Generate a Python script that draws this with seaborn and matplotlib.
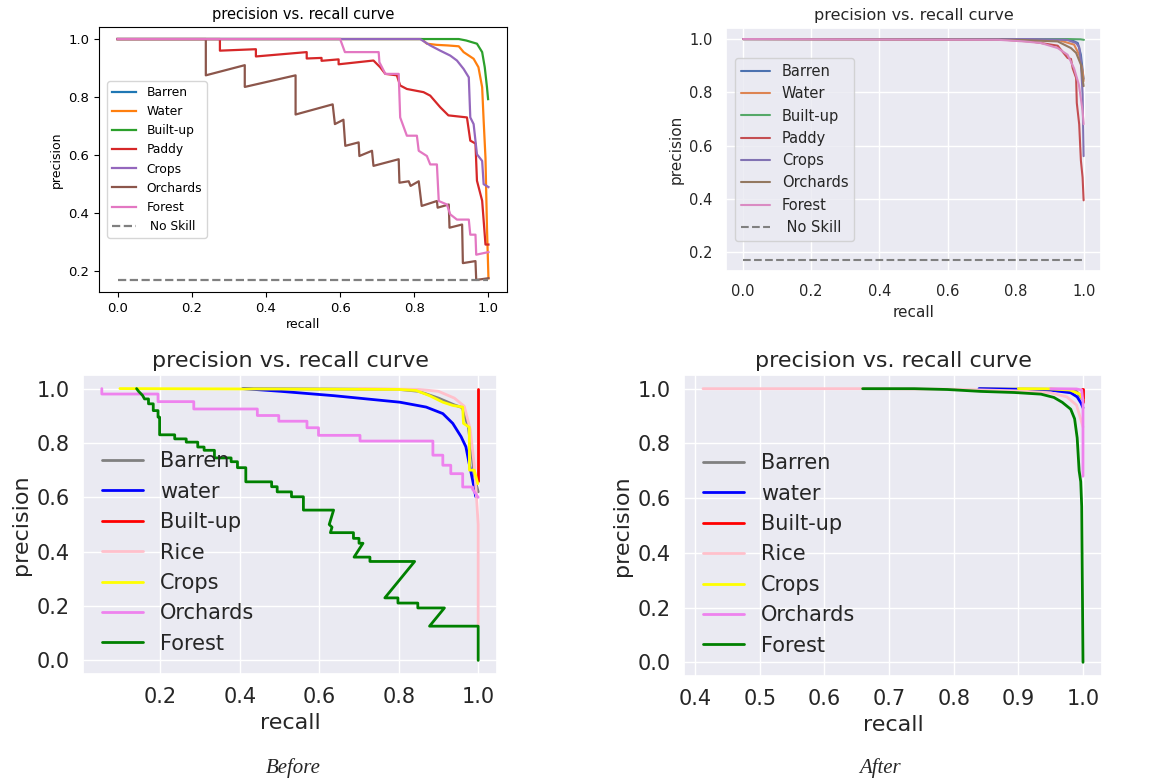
import matplotlib
matplotlib.use("Agg")
import matplotlib.pyplot as plt
from matplotlib.ticker import MultipleLocator
import seaborn as sns

# ---------------- data ----------------
# Top-left (before, first model)
tl_names = ["Barren", "Water", "Built-up", "Paddy", "Crops", "Orchards", "Forest"]
tl_barren_r = [0.0, 0.60]
tl_barren_p = [1.0, 1.0]
tl_water_r = [0.0, 0.82, 0.834, 0.86, 0.89, 0.92, 0.933, 0.96, 0.973, 0.983, 0.987, 0.992, 0.996, 1.0]
tl_water_p = [1.0, 1.0, 0.984, 0.98, 0.978, 0.975, 0.955, 0.932, 0.903, 0.834, 0.72, 0.59, 0.35, 0.176]
tl_built_r = [0.0, 0.92, 0.94, 0.969, 0.983, 0.99, 0.996, 0.999]
tl_built_p = [1.0, 1.0, 0.995, 0.984, 0.955, 0.903, 0.834, 0.793]
tl_paddy_r = [0.0, 0.276, 0.276, 0.373, 0.373, 0.51, 0.51, 0.55, 0.55, 0.596, 0.596, 0.69, 0.708,
              0.722, 0.753, 0.762, 0.78, 0.825, 0.843, 0.87, 0.892, 0.942, 0.951, 0.965, 0.969,
              0.983, 0.992, 1.0]
tl_paddy_p = [1.0, 1.0, 0.96, 0.965, 0.94, 0.955, 0.933, 0.935, 0.925, 0.93, 0.913, 0.926, 0.903,
              0.88, 0.875, 0.84, 0.828, 0.817, 0.805, 0.765, 0.737, 0.73, 0.65, 0.64, 0.512,
              0.443, 0.292, 0.292]
tl_crops_r = [0.0, 0.816, 0.843, 0.87, 0.897, 0.915, 0.933, 0.947, 0.951, 0.96, 0.969, 0.983, 0.987, 1.0]
tl_crops_p = [1.0, 1.0, 0.978, 0.96, 0.943, 0.926, 0.897, 0.868, 0.73, 0.707, 0.603, 0.58, 0.5, 0.49]
tl_orch_r = [0.0, 0.238, 0.238, 0.343, 0.343, 0.48, 0.48, 0.58, 0.586, 0.609, 0.614, 0.65, 0.652,
             0.686, 0.69, 0.758, 0.76, 0.785, 0.79, 0.812, 0.82, 0.861, 0.863, 0.893, 0.895,
             0.929, 0.931, 0.965, 0.967, 1.0]
tl_orch_p = [1.0, 1.0, 0.875, 0.91, 0.835, 0.875, 0.74, 0.775, 0.707, 0.722, 0.632, 0.644, 0.597,
             0.615, 0.563, 0.586, 0.505, 0.51, 0.494, 0.51, 0.425, 0.442, 0.419, 0.43, 0.35,
             0.361, 0.228, 0.235, 0.17, 0.176]
tl_forest_r = [0.0, 0.6, 0.613, 0.704, 0.706, 0.722, 0.758, 0.762, 0.78, 0.807, 0.812, 0.834, 0.843,
               0.861, 0.866, 0.888, 0.897, 0.915, 0.947, 0.951, 0.965, 0.967, 1.0]
tl_forest_p = [1.0, 1.0, 0.955, 0.955, 0.92, 0.88, 0.88, 0.73, 0.667, 0.667, 0.615, 0.597, 0.568,
               0.568, 0.442, 0.43, 0.396, 0.378, 0.378, 0.326, 0.326, 0.257, 0.266]
noskill_r = [0.0, 1.0]
noskill_p = [0.17, 0.17]

# Top-right (after, first model)
tr_barren_r = [0.0, 0.8, 0.962, 0.982, 0.991, 0.999]
tr_barren_p = [1.0, 1.0, 0.997, 0.985, 0.941, 0.85]
tr_water_r = [0.0, 0.8, 0.923, 0.971, 0.986, 0.996, 0.999]
tr_water_p = [1.0, 1.0, 0.997, 0.979, 0.941, 0.879, 0.842]
tr_built_r = [0.0, 0.95, 0.99, 1.0]
tr_built_p = [1.0, 1.0, 0.999, 0.997]
tr_paddy_r = [0.0, 0.76, 0.85, 0.923, 0.952, 0.962, 0.967, 0.977, 0.979, 0.986, 0.991, 0.996, 0.999]
tr_paddy_p = [1.0, 0.998, 0.99, 0.975, 0.929, 0.925, 0.89, 0.854, 0.76, 0.68, 0.544, 0.48, 0.394]
tr_crops_r = [0.0, 0.85, 0.95, 0.977, 0.986, 0.991, 0.996, 0.999]
tr_crops_p = [1.0, 1.0, 0.997, 0.985, 0.97, 0.917, 0.792, 0.56]
tr_orch_r = [0.0, 0.76, 0.825, 0.923, 0.962, 0.977, 0.991, 0.999]
tr_orch_p = [1.0, 0.998, 0.996, 0.991, 0.966, 0.948, 0.904, 0.823]
tr_forest_r = [0.0, 0.75, 0.825, 0.874, 0.923, 0.952, 0.971, 0.985, 0.996, 0.999]
tr_forest_p = [1.0, 0.997, 0.991, 0.985, 0.966, 0.941, 0.89, 0.829, 0.73, 0.68]

# Bottom (second model)
b_names = ["Barren", "water", "Built-up", "Rice", "Crops", "Orchards", "Forest"]
bl_barren_r = [0.41, 0.8, 0.85, 0.9, 0.94, 0.96, 0.975, 0.985, 0.99, 1.0]
bl_barren_p = [1.0, 0.997, 0.99, 0.965, 0.94, 0.93, 0.86, 0.75, 0.68, 0.62]
bl_water_r = [0.407, 0.5025, 0.594, 0.636, 0.719, 0.8025, 0.869, 0.911, 0.936, 0.957, 0.969, 0.9775, 0.986, 0.994]
bl_water_p = [1.0, 0.99, 0.979, 0.974, 0.962, 0.95, 0.932, 0.908, 0.872, 0.823, 0.786, 0.723, 0.663, 0.602]
bl_built_r = [1.0, 1.0]
bl_built_p = [1.0, 0.66]
bl_rice_r = [0.7, 0.85, 0.9, 0.94, 0.965, 0.98, 0.99, 0.995, 1.0, 1.0]
bl_rice_p = [1.0, 0.997, 0.99, 0.965, 0.935, 0.85, 0.72, 0.62, 0.5, 0.13]
bl_crops_r = [0.098, 0.8, 0.844, 0.8775, 0.911, 0.936, 0.961, 0.963, 0.9775, 0.978, 0.99, 0.999]
bl_crops_p = [1.0, 0.997, 0.993, 0.974, 0.95, 0.938, 0.932, 0.872, 0.858, 0.7, 0.7, 0.65]
bl_orch_r = [0.0525, 0.0525, 0.194, 0.194, 0.284, 0.284, 0.444, 0.444, 0.498, 0.498, 0.569, 0.569,
             0.598, 0.598, 0.7025, 0.7025, 0.886, 0.886, 0.911, 0.911, 0.931, 0.931, 0.961, 0.961,
             0.986, 0.986, 1.0]
bl_orch_p = [1.0, 0.98, 0.98, 0.952, 0.952, 0.925, 0.925, 0.901, 0.901, 0.88, 0.88, 0.856,
             0.856, 0.828, 0.828, 0.807, 0.807, 0.755, 0.755, 0.718, 0.718, 0.687, 0.687, 0.638,
             0.638, 0.63, 0.6]
bl_forest_r = [0.14, 0.145, 0.155, 0.16, 0.17, 0.17, 0.182, 0.182, 0.194, 0.194, 0.198, 0.198, 0.236,
               0.236, 0.265, 0.265, 0.294, 0.294, 0.31, 0.31, 0.336, 0.336, 0.378, 0.378, 0.394,
               0.394, 0.415, 0.415, 0.48, 0.48, 0.494, 0.494, 0.53, 0.53, 0.56, 0.56, 0.636,
               0.625, 0.632, 0.628, 0.686, 0.686, 0.70, 0.70, 0.71, 0.6875, 0.7275, 0.7275, 0.84,
               0.765, 0.798, 0.798, 0.848, 0.848, 0.915, 0.8775, 1.0, 1.0]
bl_forest_p = [1.0, 0.99, 0.975, 0.962, 0.962, 0.944, 0.944, 0.919, 0.919, 0.895, 0.895, 0.83, 0.83,
               0.815, 0.815, 0.803, 0.803, 0.785, 0.785, 0.773, 0.773, 0.745, 0.745, 0.731, 0.731,
               0.709, 0.709, 0.657, 0.657, 0.639, 0.639, 0.62, 0.62, 0.602, 0.602, 0.553, 0.553,
               0.5, 0.49, 0.47, 0.47, 0.449, 0.449, 0.431, 0.431, 0.38, 0.38, 0.364, 0.364,
               0.23, 0.23, 0.211, 0.211, 0.193, 0.193, 0.126, 0.126, 0.0]

br_barren_r = [0.84, 0.95, 0.99, 1.0]
br_barren_p = [1.0, 0.998, 0.99, 0.96]
br_water_r = [0.839, 0.919, 0.955, 0.981, 0.991, 0.997, 1.0]
br_water_p = [1.0, 0.996, 0.993, 0.985, 0.97, 0.947, 0.93]
br_built_r = [0.999, 1.0, 1.0]
br_built_p = [1.0, 1.0, 0.95]
br_rice_r = [0.412, 0.66, 0.8, 0.9, 0.95, 0.975, 0.99, 0.995, 1.0]
br_rice_p = [1.0, 1.0, 0.998, 0.992, 0.985, 0.97, 0.94, 0.9, 0.86]
br_crops_r = [0.9, 0.95, 0.98, 0.995, 1.0]
br_crops_p = [1.0, 0.999, 0.995, 0.98, 0.96]
br_orch_r = [0.95, 0.99, 0.998, 1.0, 1.0]
br_orch_p = [1.0, 0.999, 0.995, 0.95, 0.68]
br_forest_r = [0.659, 0.739, 0.79, 0.842, 0.894, 0.935, 0.955, 0.968, 0.981, 0.987, 0.991, 0.994,
               0.9965, 0.998, 1.0]
br_forest_p = [1.0, 1.0, 0.997, 0.99, 0.986, 0.98, 0.968, 0.95, 0.925, 0.89, 0.82, 0.70, 0.66,
               0.57, 0.0]

tl_colors = ["#1f77b4", "#ff7f0e", "#2ca02c", "#d62728", "#9467bd", "#8c564b", "#e377c2"]
tr_colors = sns.color_palette("deep", 7)
b_colors = ["gray", "blue", "red", "pink", "yellow", "violet", "green"]

# ---------------- plotting ----------------
sns.set_theme(style="darkgrid")
fig = plt.figure(figsize=(11.6, 7.82), dpi=100)
W, H = 1160, 782


def rect(x0, y0, x1, y1):
    return [x0 / W, 1 - y1 / H, (x1 - x0) / W, (y1 - y0) / H]


def draw(ax, series, names, colors, lw, noskill=False):
    for (r, p), name, c in zip(series, names, colors):
        sns.lineplot(x=r, y=p, sort=False, estimator=None, color=c, lw=lw, label=name, ax=ax)
    if noskill:
        sns.lineplot(x=noskill_r, y=noskill_p, sort=False, estimator=None, color="gray",
                     lw=lw, linestyle="--", label=" No Skill", ax=ax)


# Top-left: matplotlib default look
with plt.style.context("default"):
    ax1 = fig.add_axes(rect(99, 27, 507, 292))
    draw(ax1, [(tl_barren_r, tl_barren_p), (tl_water_r, tl_water_p), (tl_built_r, tl_built_p),
               (tl_paddy_r, tl_paddy_p), (tl_crops_r, tl_crops_p), (tl_orch_r, tl_orch_p),
               (tl_forest_r, tl_forest_p)], tl_names, tl_colors, 1.6, noskill=True)
    ax1.set_title("precision vs. recall curve", fontsize=10.5)
    ax1.set_xlabel("recall", fontsize=9, labelpad=2)
    ax1.set_ylabel("precision", fontsize=9)
    ax1.tick_params(labelsize=9.5)
    ax1.legend(loc="center left", fontsize=8.8, bbox_to_anchor=(0.005, 0.5))

# Top-right: seaborn darkgrid
ax2 = fig.add_axes(rect(726, 28, 1101, 271))
draw(ax2, [(tr_barren_r, tr_barren_p), (tr_water_r, tr_water_p), (tr_built_r, tr_built_p),
           (tr_paddy_r, tr_paddy_p), (tr_crops_r, tr_crops_p), (tr_orch_r, tr_orch_p),
           (tr_forest_r, tr_forest_p)], tl_names, tr_colors, 1.5, noskill=True)
ax2.set_title("precision vs. recall curve", fontsize=11.5)
ax2.set_xlabel("recall", fontsize=11)
ax2.set_ylabel("precision", fontsize=11)
ax2.tick_params(labelsize=10.5)
ax2.legend(loc="center left", fontsize=10.5, bbox_to_anchor=(0.005, 0.5))

# Bottom-left
ax3 = fig.add_axes(rect(83, 375, 497, 674))
draw(ax3, [(bl_barren_r, bl_barren_p), (bl_water_r, bl_water_p), (bl_built_r, bl_built_p),
           (bl_rice_r, bl_rice_p), (bl_crops_r, bl_crops_p), (bl_orch_r, bl_orch_p),
           (bl_forest_r, bl_forest_p)], b_names, b_colors, 2)
ax3.set_title("precision vs. recall curve", fontsize=16)
ax3.set_xlabel("recall", fontsize=16)
ax3.set_ylabel("precision", fontsize=16)
ax3.tick_params(labelsize=15)
ax3.legend(loc="lower left", fontsize=15, frameon=False, bbox_to_anchor=(0.0, 0.005),
           labelspacing=0.5)

# Bottom-right
ax4 = fig.add_axes(rect(684, 375, 1102, 676))
draw(ax4, [(br_barren_r, br_barren_p), (br_water_r, br_water_p), (br_built_r, br_built_p),
           (br_rice_r, br_rice_p), (br_crops_r, br_crops_p), (br_orch_r, br_orch_p),
           (br_forest_r, br_forest_p)], b_names, b_colors, 2)
ax4.xaxis.set_major_locator(MultipleLocator(0.1))
ax4.set_title("precision vs. recall curve", fontsize=16)
ax4.set_xlabel("recall", fontsize=16)
ax4.set_ylabel("precision", fontsize=16)
ax4.tick_params(labelsize=15)
ax4.legend(loc="lower left", fontsize=15, frameon=False, bbox_to_anchor=(0.0, 0.005),
           labelspacing=0.5)

fig.text(293 / W, 1 - 768 / H, "Before", fontfamily="Liberation Serif", style="italic",
         fontsize=15, ha="center", va="center")
fig.text(880 / W, 1 - 768 / H, "After", fontfamily="Liberation Serif", style="italic",
         fontsize=15, ha="center", va="center")

fig.savefig("out.png", dpi=100)
